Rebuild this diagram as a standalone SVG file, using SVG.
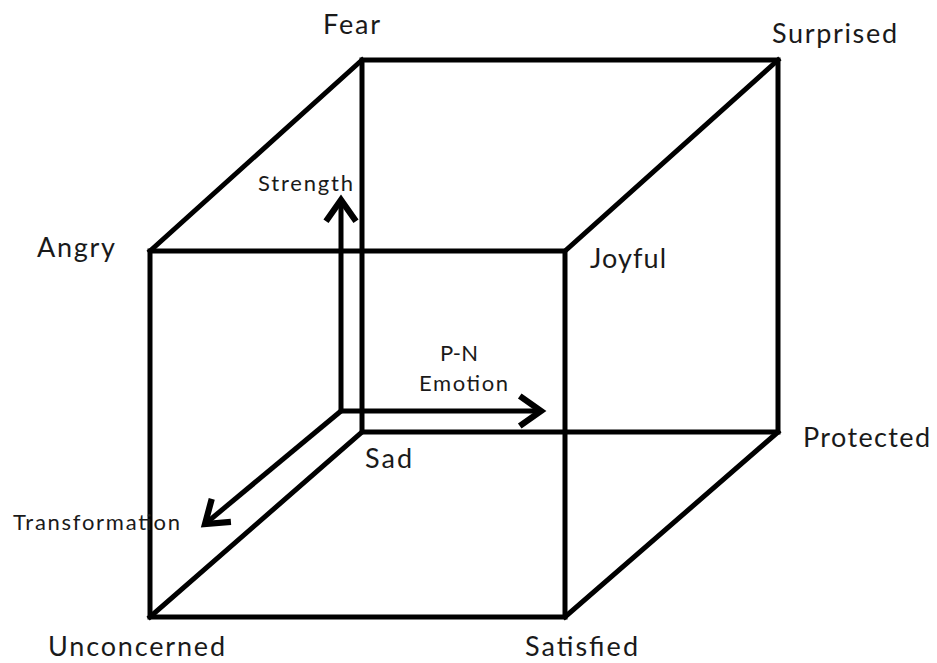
<svg xmlns="http://www.w3.org/2000/svg" width="937" height="663" viewBox="0 0 937 663">
<style>
.edge{fill:none;stroke:#000;stroke-width:5;stroke-linejoin:miter;stroke-linecap:square}
.axis{fill:none;stroke:#000;stroke-width:5;stroke-linecap:butt}
.lbl{font-family:Lato,"Open Sans","Liberation Sans",sans-serif;font-size:27px;fill:#1a1a1a}
.sm{font-family:Lato,"Open Sans","Liberation Sans",sans-serif;font-size:22px;fill:#1a1a1a}
</style>
<defs>
<marker id="head" markerUnits="userSpaceOnUse" markerWidth="40" markerHeight="40" viewBox="-24 -16 28 32" refX="0" refY="0" orient="auto">
<path d="M-17,-12 L0,0 L-17,12" fill="none" stroke="#000" stroke-width="5" stroke-linejoin="miter"/>
</marker>
</defs>
<rect width="937" height="663" fill="#fff"/>
<g id="cube">
<path class="edge" d="M362,60 H778 V432 H362 Z"/>
<path class="edge" d="M150,251 H565 V617 H150 Z"/>
<path class="edge" d="M150,251 L362,60 M565,251 L778,60 M565,617 L778,432 M150,617 L362,432"/>
</g>
<g id="connectors">
<path class="axis" d="M341,411 V200" marker-end="url(#head)"/>
<path class="axis" d="M341,411 H541" marker-end="url(#head)"/>
<path class="axis" d="M341,411 L205,524" marker-end="url(#head)"/>
</g>
<g id="fear"><text class="lbl" x="323" y="34" textLength="57">Fear</text></g>
<g id="surprised"><text class="lbl" x="772" y="43" textLength="125">Surprised</text></g>
<g id="angry"><text class="lbl" x="37" y="257" textLength="78">Angry</text></g>
<g id="joyful"><text class="lbl" x="590" y="268" textLength="76">Joyful</text></g>
<g id="protected"><text class="lbl" x="803" y="447" textLength="127">Protected</text></g>
<g id="sad"><text class="lbl" x="365" y="468" textLength="47">Sad</text></g>
<g id="unconcerned"><text class="lbl" x="48" y="656" textLength="177">Unconcerned</text></g>
<g id="satisfied"><text class="lbl" x="525" y="656" textLength="113">Satisfied</text></g>
<g id="strength"><text class="sm" x="258" y="191" textLength="95">Strength</text></g>
<g id="pn-emotion"><text class="sm" x="440" y="361" textLength="38">P-N</text><text class="sm" x="419" y="391" textLength="89">Emotion</text></g>
<g id="transformation"><text class="sm" x="13" y="530" textLength="167">Transformation</text></g>
</svg>
